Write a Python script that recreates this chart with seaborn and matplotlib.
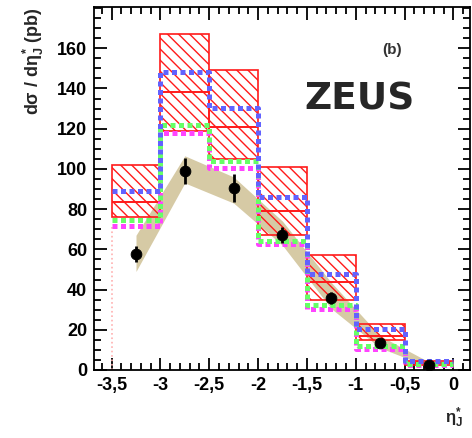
import numpy as np
import pandas as pd
import matplotlib
matplotlib.use("Agg")
import matplotlib.pyplot as plt
from matplotlib.ticker import MultipleLocator, FixedLocator, FuncFormatter
import seaborn as sns

# ── data ────────────────────────────────────────────────────────────
bin_edges = [-3.5, -3.0, -2.5, -2.0, -1.5, -1.0, -0.5, 0.0]
bin_centres = [-3.25, -2.75, -2.25, -1.75, -1.25, -0.75, -0.25]

# red hatched band (upper / central / lower)
red_hi = [102, 167, 149, 101, 57, 23, 4.5]
red_mid = [83.5, 138, 121, 79, 44, 17, 3.5]
red_lo = [76, 119, 105, 67, 35, 15, 2.5]

# dotted step histograms
blue_vals = [89, 148, 130.5, 86, 47.5, 20.5, 4.5]
green_vals = [74.5, 122, 104, 64, 32.3, 12, 3]
magenta_vals = [71.5, 118, 100.4, 62.6, 30.3, 10.4, 2.5]

# tan uncertainty band
band_lo = [49, 93, 83, 62, 30.5, 11, 1.5]
band_hi = [67, 106.5, 96, 74, 43.5, 17, 4]

# data points
data_y = [57.5, 99, 90.5, 67, 36, 13.5, 2.5]
data_err = [4, 6.3, 7, 4, 3, 2, 1]

y_ticks = [0, 20, 40, 60, 80, 100, 120, 140, 160]

# ── style ───────────────────────────────────────────────────────────
sns.set_theme(style="ticks")
plt.rcParams["font.family"] = ["Liberation Sans", "DejaVu Sans"]
plt.rcParams["font.weight"] = "bold"
plt.rcParams["mathtext.fontset"] = "custom"
plt.rcParams["mathtext.rm"] = "Liberation Sans:bold"
plt.rcParams["mathtext.it"] = "Liberation Sans:bold"
plt.rcParams["mathtext.bf"] = "Liberation Sans:bold"
plt.rcParams["hatch.linewidth"] = 1.0

fig = plt.figure(figsize=(4.72, 4.38), dpi=100)
ax = fig.add_axes([94 / 472, 68 / 438, 376 / 472, 363 / 438])

# tan band (polygon between bin centres)
ax.fill_between(bin_centres, band_lo, band_hi, color="#d6caa5", lw=0, zorder=1)

# red hatched band
lo = np.array(red_lo)
hi = np.array(red_hi)
ax.bar(bin_edges[:-1], hi - lo, bottom=lo, width=0.5, align="edge",
       fill=False, edgecolor="#ff1a1a", hatch="\\\\\\", lw=1.2, zorder=2)
ax.hlines(red_mid, bin_edges[:-1], bin_edges[1:], color="#ff1a1a", lw=1.4, zorder=2)

# faint pink edge at the start of the lowest histogram
ax.vlines(bin_edges[0], 0, magenta_vals[0], color="#ffb0b0", ls=":", lw=1.2, zorder=2)

# dotted step histograms
steps = pd.DataFrame({
    "x": bin_edges,
    "magenta": magenta_vals + [magenta_vals[-1]],
    "green": green_vals + [green_vals[-1]],
    "blue": blue_vals + [blue_vals[-1]],
})
dot_style = (0, (1.0, 0.7))
for col, colour, z in [("magenta", "#ff44ff", 3), ("green", "#66ff66", 4),
                       ("blue", "#6262ff", 5)]:
    sns.lineplot(data=steps, x="x", y=col, drawstyle="steps-post", estimator=None,
                 color=colour, lw=3.6, linestyle=dot_style, ax=ax, zorder=z)

# data points with error bars
ax.errorbar(bin_centres, data_y, yerr=data_err, fmt="none", ecolor="black",
            elinewidth=2, capsize=0, zorder=6)
sns.scatterplot(x=bin_centres, y=data_y, color="black", s=60, edgecolor="black",
                ax=ax, zorder=7)

# ── axes ────────────────────────────────────────────────────────────
ax.set_xlim(-3.68, 0.17)
ax.set_ylim(0, 180.5)
ax.xaxis.set_major_locator(MultipleLocator(0.5))
ax.xaxis.set_minor_locator(MultipleLocator(0.1))
ax.yaxis.set_major_locator(FixedLocator(y_ticks))
ax.yaxis.set_minor_locator(MultipleLocator(5))
ax.xaxis.set_major_formatter(FuncFormatter(lambda v, p: f"{v:g}".replace(".", ",")))
ax.yaxis.set_major_formatter(FuncFormatter(lambda v, p: f"{v:g}"))
ax.tick_params(which="both", direction="in", top=True, right=True, width=1.3,
               colors="black")
ax.tick_params(which="major", length=9, labelsize=13, pad=5)
ax.tick_params(which="minor", length=5)
for lab in ax.get_xticklabels() + ax.get_yticklabels():
    lab.set_fontweight("bold")
for sp in ax.spines.values():
    sp.set_linewidth(1.3)
    sp.set_color("black")

ax.set_xlabel("")
ax.set_ylabel(r"d$\sigma$ / d$\eta^{*}_{J}$ (pb)", fontsize=13, fontweight="bold",
              loc="top", labelpad=8)
fig.text(454 / 472, 1 - 418 / 438, r"$\eta^{*}_{J}$", fontsize=12,
         ha="center", va="center")

ax.text(392 / 472, 1 - 50 / 438, "(b)", transform=fig.transFigure, fontsize=11,
        fontweight="bold", color="#333333", ha="center", va="center")
ax.text(360 / 472, 1 - 100 / 438, "ZEUS", transform=fig.transFigure,
        fontsize=27, fontweight="bold", family="DejaVu Sans",
        ha="center", va="center")

fig.savefig("out.png", dpi=100)
